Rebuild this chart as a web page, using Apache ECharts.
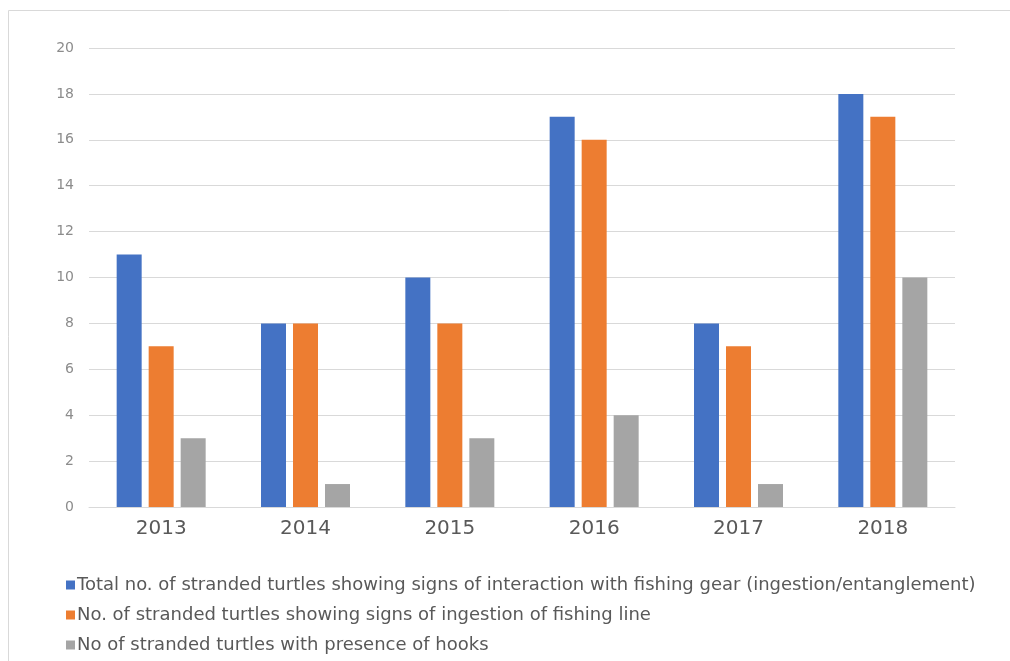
<!DOCTYPE html>
<html>
<head>
<meta charset="utf-8">
<script src="https://cdn.jsdelivr.net/npm/echarts@6/dist/echarts.min.js"></script>
<style>
  html, body { margin: 0; padding: 0; background: #fff; }
  #chart { width: 1010px; height: 661px; }
</style>
</head>
<body>
<div id="chart"></div>
<script>
// years on the x axis
var years = ["2013", "2014", "2015", "2016", "2017", "2018"];
// series names (legend)
var seriesNames = [
  "Total no. of stranded turtles showing signs of interaction with fishing gear (ingestion/entanglement)",
  "No. of stranded turtles showing signs of ingestion of fishing line",
  "No of stranded turtles with presence of hooks"
];
// values
var totalInteraction = [11, 8, 10, 17, 8, 18];
var ingestionLine = [7, 8, 8, 16, 7, 17];
var withHooks = [3, 1, 3, 4, 1, 10];

var colors = ["#4472C4", "#ED7D31", "#A5A5A5"];

var myChart = echarts.init(document.getElementById("chart"));

function barSeries(name, data) {
  return {
    name: name,
    type: "bar",
    barWidth: 25,
    barGap: "28%",
    data: data
  };
}

myChart.setOption({
  animation: false,
  color: colors,
  graphic: [{
    type: "rect",
    shape: { x: 8.5, y: 10.5, width: 1010, height: 700 },
    style: { fill: "none", stroke: "#D9D9D9", lineWidth: 1 },
    silent: true
  }],
  grid: {
    left: 89,
    right: 55,
    top: 48,
    bottom: 154
  },
  legend: {
    orient: "vertical",
    left: 61,
    top: 571,
    itemWidth: 9,
    itemHeight: 9,
    itemGap: 12,
    icon: "rect",
    textStyle: {
      fontFamily: "DejaVu Sans",
      fontSize: 18,
      color: "#595959",
      padding: [0, 0, 0, -3]
    },
    data: seriesNames
  },
  xAxis: {
    type: "category",
    data: years,
    axisLine: { lineStyle: { color: "#D9D9D9", width: 1 } },
    axisTick: { show: false },
    axisLabel: {
      fontFamily: "DejaVu Sans",
      fontSize: 20,
      color: "#595959",
      margin: 12
    }
  },
  yAxis: {
    type: "value",
    min: 0,
    max: 20,
    interval: 2,
    axisLine: { show: false },
    axisTick: { show: false },
    axisLabel: {
      fontFamily: "DejaVu Sans",
      fontSize: 14,
      color: "#8C8C8C",
      margin: 15
    },
    splitLine: { lineStyle: { color: "#D9D9D9", width: 1 } }
  },
  series: [
    barSeries(seriesNames[0], totalInteraction),
    barSeries(seriesNames[1], ingestionLine),
    barSeries(seriesNames[2], withHooks)
  ]
});
</script>
</body>
</html>
